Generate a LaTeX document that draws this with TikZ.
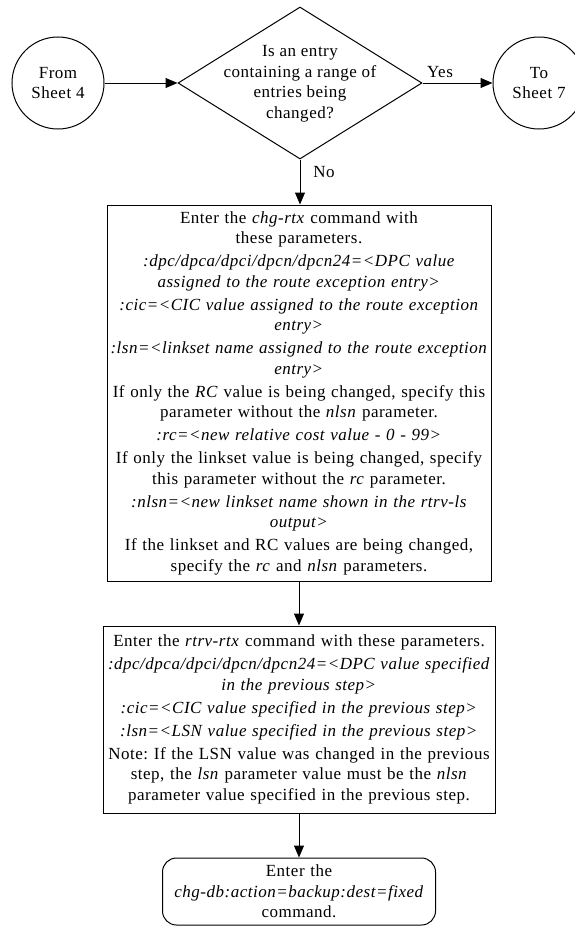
\documentclass[tikz,border=0pt]{standalone}
\usepackage{fontspec}
\setmainfont{Liberation Serif}[LetterSpace=3]
\usetikzlibrary{shapes.geometric,arrows.meta}
\frenchspacing
\begin{document}
\begin{tikzpicture}[x=1pt,y=-1pt,
  every node/.style={font=\frenchspacing\fontsize{17}{20.5}\selectfont},
  conn/.style={draw, line width=1pt, -{Triangle[length=12pt,width=10pt]}},
  circ/.style={draw, circle, line width=1pt, minimum size=92pt, inner sep=0pt, align=center},
  dia/.style={draw, diamond, line width=1pt, minimum width=244pt, minimum height=152pt, inner sep=0pt},
  stepbox/.style={draw, rectangle, line width=1pt, inner sep=0pt, align=center},
  endbox/.style={draw, rectangle, rounded corners=14pt, line width=1pt, inner sep=0pt, align=center},
  lbl/.style={inner sep=0pt}]
\path[use as bounding box] (0,0) rectangle (574,926);

\node[circ] (from) at (58,83) {From\\Sheet 4};
\node[dia] (q) at (300,83) {};
\node[align=center, inner sep=0pt] (qtext) at (300,84) {Is an entry\\containing a range of\\entries being\\changed?};
\node[circ] (to) at (539,83) {To\\Sheet 7};

\node[stepbox, minimum width=384pt, minimum height=376pt, text width=380pt] (b1) at (299,393) {%
Enter the \textit{chg-rtx} command with\\
these parameters.\\[2.5pt]
\textit{:dpc/dpca/dpci/dpcn/dpcn24=<DPC value}\\
\textit{assigned to the route exception entry>}\\[2.5pt]
\textit{:cic=<CIC value assigned to the route exception}\\
\textit{entry>}\\[2.5pt]
\textit{:lsn=<linkset name assigned to the route exception}\\
\textit{entry>}\\[2.5pt]
If only the \textit{RC} value is being changed, specify this\\
parameter without the \textit{nlsn} parameter.\\[2.5pt]
\textit{:rc=<new relative cost value - 0 - 99>}\\[2.5pt]
If only the linkset value is being changed, specify\\
this parameter without the \textit{rc} parameter.\\[2.5pt]
\textit{:nlsn=<new linkset name shown in the rtrv-ls}\\
\textit{output>}\\[2.5pt]
If the linkset and RC values are being changed,\\
specify the \textit{rc} and \textit{nlsn} parameters.};

\node[stepbox, minimum width=392pt, minimum height=187pt, text width=388pt] (b2) at (299,719.5) {%
Enter the \textit{rtrv-rtx} command with these parameters.\\[2.5pt]
\textit{:dpc/dpca/dpci/dpcn/dpcn24=<DPC value specified}\\
\textit{in the previous step>}\\[2.5pt]
\textit{:cic=<CIC value specified in the previous step>}\\[2.5pt]
\textit{:lsn=<LSN value specified in the previous step>}\\[2.5pt]
Note: If the LSN value was changed in the previous\\
step, the \textit{lsn} parameter value must be the \textit{nlsn}\\
parameter value specified in the previous step.};

\node[endbox, minimum width=273pt, minimum height=67pt, text width=267pt] (b3) at (299,891.5) {%
Enter the\\
\textit{chg-db:action=backup:dest=fixed}\\
command.};

\draw[conn] (from.east) -- (q.west);
\draw[conn] (q.east) -- (to.west);
\draw[conn] (q.south) -- (q.south |- b1.north);
\draw[conn] (b1.south) -- (b2.north);
\draw[conn] (b2.south) -- (b3.north);

\node[lbl] (yes) at (440,72) {Yes};
\node[lbl] (no) at (324,172) {No};
\end{tikzpicture}
\end{document}
